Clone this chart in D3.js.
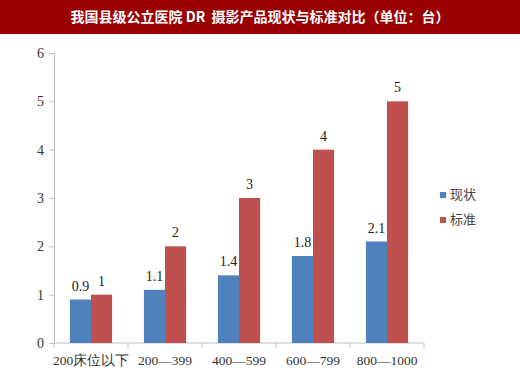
<!DOCTYPE html>
<html>
<head>
<meta charset="utf-8">
<script src="https://cdn.jsdelivr.net/npm/d3@7"></script>
<style>
  body { margin: 0; background: #fff; }
  svg { display: block; }
</style>
</head>
<body>
<div id="chart"></div>
<script>
var title = "我国县级公立医院 DR  摄影产品现状与标准对比（单位：台）";
var categories = ["200床位以下", "200—399", "400—599", "600—799", "800—1000"];
var seriesNames = ["现状", "标准"];
var current = [0.9, 1.1, 1.4, 1.8, 2.1];
var standard = [1, 2, 3, 4, 5];
var yTicks = [0, 1, 2, 3, 4, 5, 6];
var colors = ["#4f81bd", "#c0504d"];

var W = 520, H = 387;
var margin = {top: 53, right: 96, bottom: 44, left: 54};
var width = W - margin.left - margin.right,
    height = H - margin.top - margin.bottom;

var serif = "'Liberation Serif', 'Times New Roman', serif";

var svg = d3.select("#chart").append("svg")
    .attr("width", W)
    .attr("height", H);

// title band
svg.append("rect")
    .attr("x", 0).attr("y", 0)
    .attr("width", W).attr("height", 34)
    .attr("fill", "#990000");
svg.append("text")
    .attr("x", W / 2).attr("y", 22)
    .attr("text-anchor", "middle")
    .attr("fill", "#fff")
    .style("white-space", "pre")
    .style("font-family", "'Noto Sans CJK SC', sans-serif")
    .style("font-size", "14px")
    .style("font-weight", "bold")
    .text(title);

var g = svg.append("g")
    .attr("transform", "translate(" + margin.left + "," + margin.top + ")");

var x = d3.scaleBand()
    .domain(categories)
    .range([0, width])
    .paddingInner(0.43)
    .paddingOuter(0.215);

var x1 = d3.scaleBand()
    .domain(seriesNames)
    .range([0, x.bandwidth()]);

var y = d3.scaleLinear()
    .domain([0, 6])
    .range([height, 0]);

var axisColor = "#bfbfbf";

// y axis
var gy = g.append("g")
    .call(d3.axisLeft(y).tickValues(yTicks).tickSize(5).tickPadding(5).tickFormat(d3.format("d")));
gy.select(".domain").attr("stroke", axisColor);
gy.selectAll(".tick line").attr("stroke", axisColor);
gy.selectAll(".tick text")
    .attr("fill", "#333")
    .style("font-family", serif)
    .style("font-size", "14px");

// x axis: ticks at band boundaries
var boundaries = d3.range(categories.length + 1).map(function(i) { return i * width / categories.length; });
var gx = g.append("g")
    .attr("transform", "translate(0," + height + ")");
gx.append("line")
    .attr("x1", 0).attr("x2", width)
    .attr("stroke", axisColor);
gx.selectAll(".btick")
    .data(boundaries)
    .enter().append("line")
    .attr("x1", function(d) { return d; })
    .attr("x2", function(d) { return d; })
    .attr("y1", 0).attr("y2", 5)
    .attr("stroke", axisColor);
gx.selectAll(".xlabel")
    .data(categories)
    .enter().append("text")
    .attr("x", function(d) { return x(d) + x.bandwidth() / 2; })
    .attr("y", 22)
    .attr("text-anchor", "middle")
    .attr("fill", "#333")
    .style("font-family", serif)
    .style("font-size", "13.5px")
    .text(function(d) { return d; });

// bars
var rows = categories.map(function(c, i) {
    return {cat: c, values: [
        {name: seriesNames[0], value: current[i], color: colors[0]},
        {name: seriesNames[1], value: standard[i], color: colors[1]}
    ]};
});

var groups = g.selectAll(".grp")
    .data(rows)
    .enter().append("g")
    .attr("transform", function(d) { return "translate(" + x(d.cat) + ",0)"; });

groups.selectAll("rect")
    .data(function(d) { return d.values; })
    .enter().append("rect")
    .attr("x", function(d) { return x1(d.name); })
    .attr("y", function(d) { return y(d.value); })
    .attr("width", x1.bandwidth())
    .attr("height", function(d) { return height - y(d.value); })
    .attr("fill", function(d) { return d.color; });

groups.selectAll(".val")
    .data(function(d) { return d.values; })
    .enter().append("text")
    .attr("x", function(d) { return x1(d.name) + x1.bandwidth() / 2; })
    .attr("y", function(d) { return y(d.value) - 9; })
    .attr("text-anchor", "middle")
    .attr("fill", "#222")
    .style("font-family", serif)
    .style("font-size", "14px")
    .text(function(d) { return d.value; });

// legend
var legend = svg.append("g")
    .attr("transform", "translate(440,192)");
var li = legend.selectAll(".li")
    .data(seriesNames)
    .enter().append("g")
    .attr("transform", function(d, i) { return "translate(0," + (i * 25) + ")"; });
li.append("rect")
    .attr("width", 6).attr("height", 6)
    .attr("fill", function(d, i) { return colors[i]; });
li.append("text")
    .attr("x", 10).attr("y", 7)
    .attr("fill", "#444")
    .style("font-family", "'Noto Sans CJK SC', sans-serif")
    .style("font-size", "13px")
    .text(function(d) { return d; });
</script>
</body>
</html>
